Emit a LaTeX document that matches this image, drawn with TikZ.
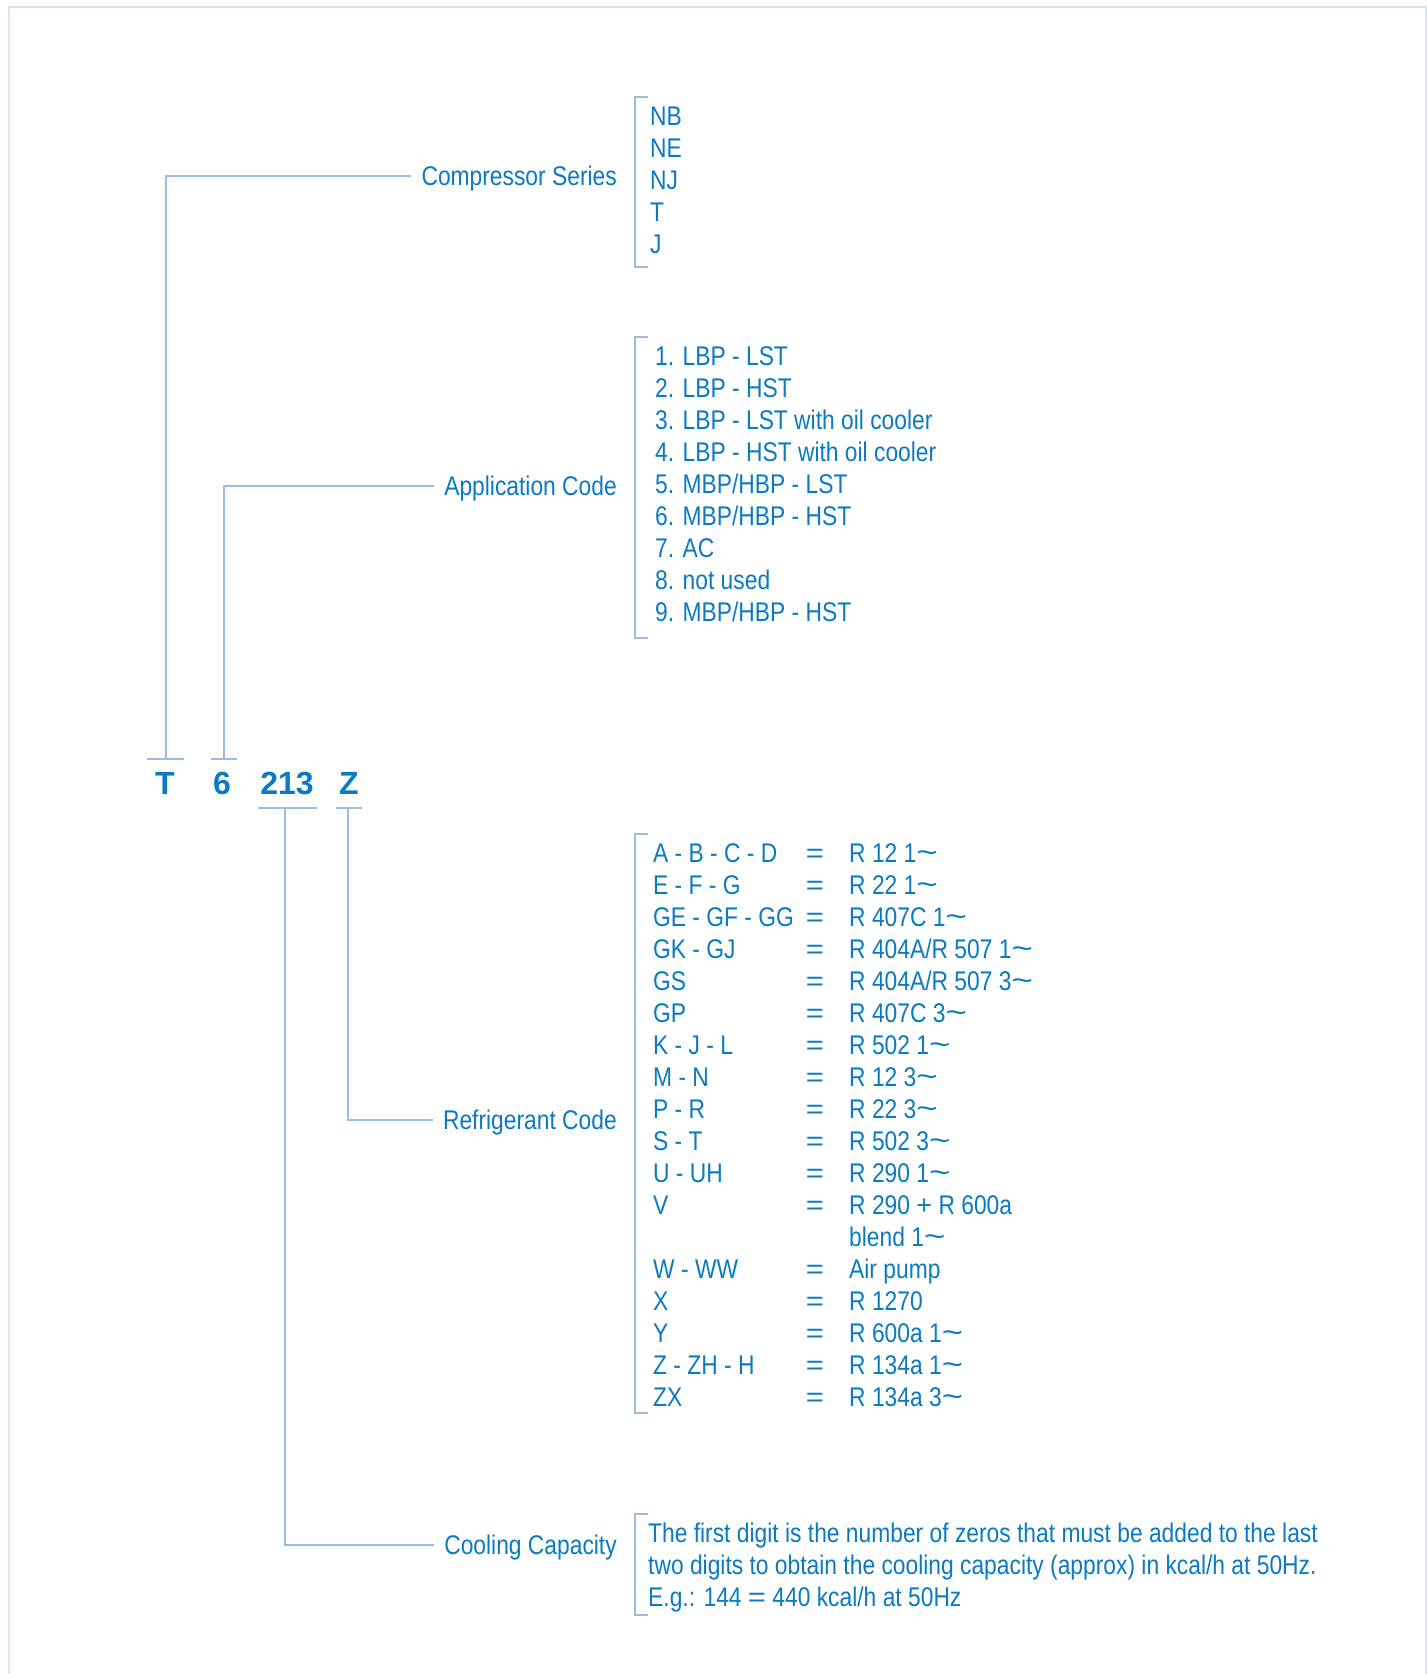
\documentclass[tikz,border=0pt]{standalone}
\usepackage{graphicx}
\usepackage{fontspec}
\setmainfont{Liberation Sans}[FakeStretch=0.845]
\newfontfamily\codefont{Liberation Sans}
\newcommand{\tl}{{\codefont\scalebox{1.35}[1.1]{\textasciitilde}}}
\newcommand{\eqsym}{{\codefont\scalebox{1.15}[1]{=}}}
\newcommand{\plussym}{{\codefont +}}
\definecolor{tblue}{HTML}{0A7AC2}
\definecolor{lblue}{HTML}{9BBCE2}
\definecolor{framec}{HTML}{DEE6F2}
\begin{document}
\begin{tikzpicture}[x=1pt,y=-1pt,
  txt/.style={inner sep=0pt, text height=19.3pt, text depth=0pt, text=tblue, font=\fontsize{27}{32}\selectfont},
  lbl/.style={txt, anchor=east},
  item/.style={txt, anchor=west},
  eqs/.style={txt, anchor=center},
  code/.style={inner sep=0pt, text=tblue, font=\codefont\bfseries\fontsize{32}{38}\selectfont, text height=23pt, text depth=0pt, anchor=center},
  conn/.style={draw=lblue, line width=1.5pt},
  brk/.style={draw=lblue, line width=1.5pt}]
\path[use as bounding box, fill=white] (0,0) rectangle (1427,1674);
\draw[draw=framec, line width=2pt] (9,1674) -- (9,7) -- (1426,7) -- (1426,1674);

% code letters
\node[code] (cT) at (165,782.5) {T};
\node[code] (c6) at (222,782.5) {6};
\node[code] (c213) at (287,782.5) {213};
\node[code] (cZ) at (349,782.5) {Z};

% ticks
\coordinate (tT) at (166,759);
\coordinate (t6) at (224,759);
\coordinate (t213) at (285,808);
\coordinate (tZ) at (348,808);
\draw[conn] (147,759) -- (tT) -- (184,759);
\draw[conn] (211,759) -- (t6) -- (237,759);
\draw[conn] (258,808) -- (t213) -- (317,808);
\draw[conn] (336,808) -- (tZ) -- (362,808);

% labels
\node[lbl] (lcs) at (617,176) {Compressor Series};
\node[lbl] (lac) at (617,486) {Application Code};
\node[lbl] (lrc) at (617,1120) {Refrigerant Code};
\node[lbl] (lcc) at (617,1545) {Cooling Capacity};

% connectors
\draw[conn] (tT) |- ([xshift=-10pt]lcs.west);
\draw[conn] (t6) |- ([xshift=-10pt]lac.west);
\draw[conn] (tZ) |- ([xshift=-10pt]lrc.west);
\draw[conn] (t213) |- ([xshift=-10pt]lcc.west);

% brackets
\draw[brk] (648,97) -- (635,97) -- (635,267) -- (648,267);
\draw[brk] (648,337) -- (635,337) -- (635,638) -- (648,638);
\draw[brk] (648,834) -- (635,834) -- (635,1413) -- (648,1413);
\draw[brk] (648,1514) -- (635,1514) -- (635,1615) -- (648,1615);

% compressor series
\foreach \t [count=\i from 0] in {NB,NE,NJ,T,J}
  \node[item] (cs\i) at (650,116+32*\i) {\t};

% application codes
\foreach \t [count=\i from 0] in {1. LBP - LST,2. LBP - HST,3. LBP - LST with oil cooler,4. LBP - HST with oil cooler,5. MBP/HBP - LST,6. MBP/HBP - HST,7. AC,8. not used,9. MBP/HBP - HST}
  \node[item] (ac\i) at (655,356+32*\i) {\t};

% refrigerant codes
\foreach \a/\b [count=\i from 0] in {
  A - B - C - D/R 12 1\tl,
  E - F - G/R 22 1\tl,
  GE - GF - GG/R 407C 1\tl,
  GK - GJ/{R 404A/R 507 1\tl},
  GS/{R 404A/R 507 3\tl},
  GP/R 407C 3\tl,
  K - J - L/R 502 1\tl,
  M - N/R 12 3\tl,
  P - R/R 22 3\tl,
  S - T/R 502 3\tl,
  U - UH/R 290 1\tl,
  V/R 290 \plussym{} R 600a}
{
  \node[item] (rl\i) at (653,853+32*\i) {\a};
  \node[eqs] (re\i) at (815,853+32*\i) {\eqsym};
  \node[item] (rr\i) at (849,853+32*\i) {\b};
}
\node[item] (rr12) at (849,853+32*12) {blend 1\tl};
\foreach \a/\b [count=\i from 13] in {
  W - WW/Air pump,
  X/R 1270,
  Y/R 600a 1\tl,
  Z - ZH - H/R 134a 1\tl,
  ZX/R 134a 3\tl}
{
  \node[item] (rl\i) at (653,853+32*\i) {\a};
  \node[eqs] (re\i) at (815,853+32*\i) {\eqsym};
  \node[item] (rr\i) at (849,853+32*\i) {\b};
}

% cooling capacity
\node[item] (cc0) at (648,1533) {The first digit is the number of zeros that must be added to the last};
\node[item] (cc1) at (648,1565) {two digits to obtain the cooling capacity (approx) in kcal/h at 50Hz.};
\node[item] (cc2) at (648,1597) {E.g.: 144 \eqsym{} 440 kcal/h at 50Hz};
\end{tikzpicture}
\end{document}
